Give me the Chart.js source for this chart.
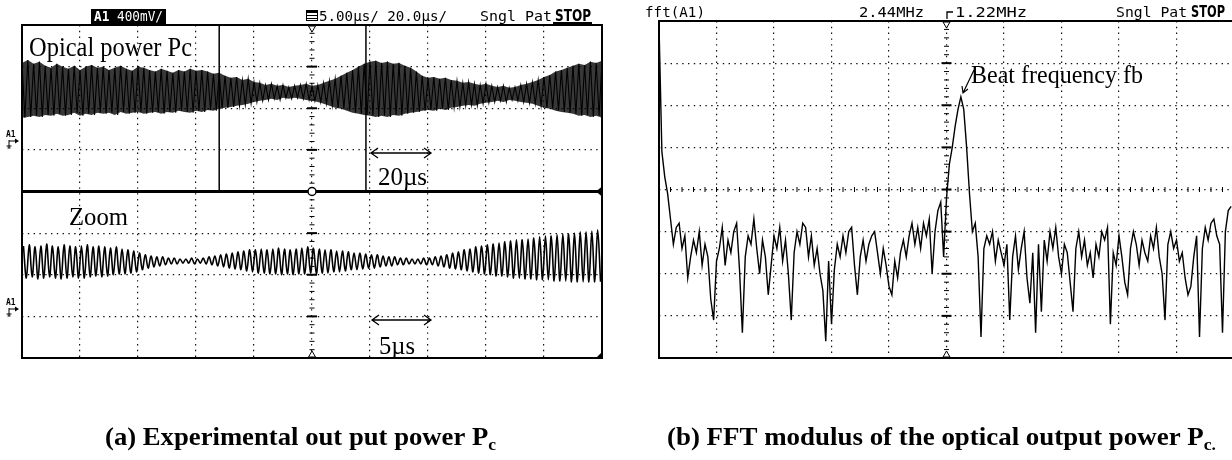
<!DOCTYPE html>
<html>
<head>
<meta charset="utf-8">
<script src="https://cdn.jsdelivr.net/npm/chart.js@4.4.1/dist/chart.umd.min.js"></script>
<style>
html, body { margin: 0; padding: 0; background: #fff; overflow: hidden; width: 1232px; height: 460px; }
canvas { position: absolute; top: 0; }
#left { left: 0; }
#right { left: 616px; }
</style>
</head>
<body>
<canvas id="left" width="616" height="460"></canvas>
<canvas id="right" width="620" height="460"></canvas>
<script>
// All values in screen divisions (x: 0..10, y: 0..8, 0 = bottom of the screen)

// (a) upper window, 20 us/div: upper and lower edge of the trace, every 0.1 div
var mainTop = [
  7.09, 7.16, 7.07, 7.12, 7.02, 6.97, 7.07, 7.00, 6.95, 7.02,
  6.92, 7.00, 7.04, 6.97, 7.00, 6.92, 6.97, 7.02, 6.95, 6.90,
  7.00, 6.97, 6.92, 6.88, 6.95, 6.90, 6.85, 6.92, 6.88, 6.95,
  6.90, 6.92, 6.88, 6.83, 6.85, 6.78, 6.73, 6.75, 6.68, 6.71,
  6.63, 6.61, 6.56, 6.59, 6.54, 6.56, 6.51, 6.54, 6.56, 6.59,
  6.54, 6.56, 6.61, 6.66, 6.71, 6.78, 6.85, 6.92, 7.00, 7.07,
  7.12, 7.14, 7.09, 7.12, 7.07, 7.09, 7.02, 6.97, 6.88, 6.78,
  6.73, 6.75, 6.71, 6.73, 6.68, 6.66, 6.61, 6.63, 6.59, 6.56,
  6.59, 6.54, 6.51, 6.54, 6.49, 6.51, 6.56, 6.59, 6.63, 6.68,
  6.75, 6.80, 6.88, 6.92, 6.97, 7.02, 7.07, 7.04, 7.12, 7.09,
  7.14
];
var mainBottom = [
  5.77, 5.79, 5.82, 5.79, 5.84, 5.82, 5.87, 5.82, 5.84, 5.89,
  5.82, 5.87, 5.84, 5.89, 5.87, 5.89, 5.84, 5.91, 5.87, 5.89,
  5.91, 5.87, 5.89, 5.91, 5.87, 5.91, 5.89, 5.94, 5.91, 5.89,
  5.94, 5.91, 5.96, 5.94, 5.99, 6.01, 6.03, 6.06, 6.08, 6.11,
  6.15, 6.18, 6.20, 6.23, 6.20, 6.25, 6.23, 6.25, 6.23, 6.20,
  6.18, 6.15, 6.11, 6.06, 6.01, 5.99, 5.94, 5.89, 5.87, 5.84,
  5.82, 5.79, 5.82, 5.79, 5.84, 5.82, 5.87, 5.89, 5.91, 5.94,
  5.96, 5.94, 5.99, 5.96, 6.01, 6.03, 6.06, 6.08, 6.06, 6.11,
  6.13, 6.15, 6.18, 6.15, 6.20, 6.18, 6.15, 6.13, 6.11, 6.06,
  6.01, 5.99, 5.94, 5.91, 5.89, 5.87, 5.82, 5.84, 5.79, 5.82,
  5.77
];

// (a) zoom window, 5 us/div: crest and trough of each cycle (one cycle per 0.1 div)
var zoomPeaks = [
  2.69, 2.72, 2.67, 2.69, 2.74, 2.69, 2.67, 2.72, 2.69, 2.67,
  2.69, 2.72, 2.67, 2.69, 2.67, 2.64, 2.67, 2.62, 2.60, 2.57,
  2.52, 2.48, 2.45, 2.43, 2.43, 2.40, 2.40, 2.38, 2.38, 2.40,
  2.38, 2.40, 2.43, 2.45, 2.48, 2.50, 2.52, 2.55, 2.57, 2.60,
  2.60, 2.62, 2.60, 2.62, 2.64, 2.62, 2.60, 2.62, 2.64, 2.67,
  2.64, 2.62, 2.60, 2.60, 2.57, 2.57, 2.55, 2.52, 2.52, 2.50,
  2.48, 2.48, 2.45, 2.43, 2.43, 2.40, 2.40, 2.38, 2.38, 2.40,
  2.40, 2.43, 2.45, 2.48, 2.52, 2.55, 2.60, 2.62, 2.67, 2.69,
  2.72, 2.74, 2.76, 2.79, 2.81, 2.84, 2.84, 2.86, 2.88, 2.91,
  2.93, 2.93, 2.96, 2.98, 2.98, 3.00, 3.03, 3.03, 3.05, 3.08
];
var zoomTroughs = [
  1.92, 1.95, 1.90, 1.92, 1.95, 1.92, 1.90, 1.92, 1.95, 1.92,
  1.92, 1.95, 1.97, 1.95, 1.97, 2.00, 2.02, 2.02, 2.04, 2.07,
  2.12, 2.16, 2.19, 2.21, 2.24, 2.26, 2.26, 2.28, 2.28, 2.26,
  2.28, 2.26, 2.24, 2.21, 2.19, 2.16, 2.14, 2.12, 2.09, 2.07,
  2.04, 2.04, 2.02, 2.02, 2.00, 2.02, 2.00, 2.02, 2.02, 2.04,
  2.02, 2.04, 2.04, 2.07, 2.07, 2.09, 2.12, 2.12, 2.14, 2.16,
  2.16, 2.19, 2.21, 2.21, 2.24, 2.24, 2.26, 2.26, 2.26, 2.24,
  2.24, 2.21, 2.19, 2.16, 2.14, 2.12, 2.09, 2.07, 2.04, 2.02,
  2.00, 1.97, 1.97, 1.95, 1.92, 1.92, 1.90, 1.90, 1.88, 1.88,
  1.88, 1.85, 1.85, 1.85, 1.83, 1.83, 1.83, 1.83, 1.83, 1.83
];

// time cursors of the upper window
var cursorX = [3.40, 5.93];

// (b) FFT modulus, one bin every 0.05 div (span 2.44 MHz, centre 1.22 MHz)
var fftValues = [
  7.9, 4.9, 4.3, 3.9, 3.3, 2.7, 3.1, 3.2, 2.6, 2.9,
  1.9, 2.4, 2.8, 2.5, 3.0, 2.2, 2.7, 2.4, 1.4, 0.9,
  2.3, 2.6, 3.1, 2.2, 2.8, 2.5, 3.0, 3.2, 2.1, 0.6,
  2.4, 2.9, 2.7, 3.3, 2.6, 2.0, 2.8, 2.4, 1.5, 2.2,
  2.9, 2.6, 3.1, 2.3, 2.8, 2.0, 0.9, 2.5, 3.0, 2.7,
  3.2, 3.1, 2.4, 2.9, 2.2, 2.6, 2.0, 1.6, 0.4, 2.3,
  0.8, 2.1, 2.7, 2.4, 2.9, 2.5, 3.0, 3.1, 2.2, 1.5,
  2.4, 2.8, 2.3, 2.7, 2.9, 3.0, 2.5, 2.0, 2.6, 2.2,
  1.7, 1.5, 2.3, 1.9, 2.5, 2.8, 2.4, 2.9, 3.2, 2.7,
  3.1, 2.6, 3.2, 2.9, 3.3, 2.0, 3.0, 3.5, 3.7, 2.4,
  3.8, 4.6, 5.0, 5.5, 5.9, 6.2, 5.9, 5.0, 3.9, 3.0,
  3.2, 2.4, 0.5, 2.6, 2.9, 2.7, 3.0, 2.3, 2.8, 2.5,
  2.2, 2.7, 0.9, 2.4, 2.9, 2.1, 2.6, 3.0, 1.9, 1.3,
  2.5, 0.6, 2.7, 1.1, 2.8, 2.3, 3.0, 2.6, 3.1, 2.4,
  2.0, 2.7, 2.5, 1.8, 1.1, 2.6, 3.0, 2.4, 2.8, 2.2,
  2.5, 1.9, 2.7, 2.4, 3.0, 2.8, 3.1, 0.8, 2.5, 2.2,
  2.9, 2.4, 1.8, 1.5, 2.6, 3.0, 2.7, 2.2, 2.8, 2.5,
  2.3, 2.9, 2.6, 3.1, 2.4, 2.0, 0.9, 2.7, 3.0, 2.6,
  2.8, 2.3, 2.5, 1.9, 1.5, 1.7, 2.4, 2.9, 0.5, 2.6,
  3.1, 2.8, 3.2, 3.3, 2.9, 2.7, 0.6, 3.0, 3.5, 3.6
];

// screen labels
var leftHeader = ['A1', ' 400mV/', '5.00\u00b5s/ 20.0\u00b5s/', 'Sngl Pat', 'STOP'];
var rightHeader = ['fft(A1)', '2.44MHz', '1.22MHz', 'Sngl Pat', 'STOP'];
var notes = ['Opical power Pc', '20\u00b5s', 'Zoom', '5\u00b5s', 'Beat frequency fb'];
var captionA = ['(a) Experimental out put power P', 'c'];
var captionB = ['(b) FFT modulus of the optical output power P', 'c.'];

// build the traces
var mainTrace = [];
for (var i = 0; i < mainTop.length; i++) {
  mainTrace.push({ x: i * 0.1, y: mainTop[i] });
  if (i < mainTop.length - 1) mainTrace.push({ x: i * 0.1 + 0.05, y: mainBottom[i] });
}
var topEdge = mainTop.map(function (v, n) { return { x: n * 0.1, y: v }; });
var bottomEdge = mainBottom.map(function (v, n) { return { x: n * 0.1, y: v }; });
var zoomTrace = [];
for (var k = 0; k < zoomPeaks.length; k++) {
  zoomTrace.push({ x: k * 0.1 + 0.025, y: zoomPeaks[k] });
  zoomTrace.push({ x: k * 0.1 + 0.075, y: zoomTroughs[k] });
}
var fftTrace = fftValues.map(function (v, j) { return { x: j * 0.05, y: v }; });

var MONO = '"DejaVu Sans Mono"';
var SERIF = '"Liberation Serif"';

// draw text squeezed/stretched to a given width
function fitText(ctx, parts, x, baseline, width, color) {
  var total = 0;
  parts.forEach(function (p) { ctx.font = p.font; p.w = ctx.measureText(p.t).width; total += p.w; });
  ctx.save();
  ctx.translate(x, baseline);
  ctx.scale(width / total, 1);
  ctx.fillStyle = color || '#000';
  ctx.textAlign = 'left';
  ctx.textBaseline = 'alphabetic';
  var cx = 0;
  parts.forEach(function (p) { ctx.font = p.font; ctx.fillText(p.t, cx, p.dy || 0); cx += p.w; });
  ctx.restore();
}

function doubleArrow(ctx, x0, x1, y) {
  ctx.beginPath();
  ctx.moveTo(x0, y); ctx.lineTo(x1, y);
  ctx.moveTo(x0 + 7, y - 5); ctx.lineTo(x0, y); ctx.lineTo(x0 + 7, y + 5);
  ctx.moveTo(x1 - 7, y - 5); ctx.lineTo(x1, y); ctx.lineTo(x1 - 7, y + 5);
  ctx.stroke();
}

// small ticks along the centre axes
function vTicks(ctx, xs, ys, skip) {
  var x = xs.getPixelForValue(5);
  for (var n = 0; n <= 40; n++) {
    var v = n * 0.2;
    if (skip && Math.abs(v - skip) < 0.01) continue;
    var y = ys.getPixelForValue(v);
    var half = (n % 5 === 0) ? 5 : 2.5;
    ctx.lineWidth = (n % 5 === 0) ? 2 : 1;
    ctx.beginPath(); ctx.moveTo(x - half, y); ctx.lineTo(x + half, y); ctx.stroke();
  }
}

function markers(ctx, x, top, bottom) {
  ctx.lineWidth = 1;
  ctx.beginPath();
  ctx.moveTo(x - 3.5, top + 1); ctx.lineTo(x + 3.5, top + 1); ctx.lineTo(x, top + 7); ctx.closePath();
  ctx.moveTo(x - 3.5, bottom - 1); ctx.lineTo(x + 3.5, bottom - 1); ctx.lineTo(x, bottom - 7); ctx.closePath();
  ctx.fillStyle = '#fff'; ctx.fill(); ctx.stroke();
}

function channelMark(ctx, y) {
  ctx.fillStyle = '#000';
  ctx.font = 'bold 8px ' + MONO;
  ctx.fillText('A1', 6, y);
  ctx.lineWidth = 1;
  ctx.beginPath();
  ctx.moveTo(9, y + 3); ctx.lineTo(9, y + 11);
  ctx.moveTo(9, y + 4); ctx.lineTo(16, y + 4);
  ctx.moveTo(6.5, y + 9); ctx.lineTo(11.5, y + 9);
  ctx.moveTo(7.5, y + 11); ctx.lineTo(10.5, y + 11);
  ctx.stroke();
  ctx.beginPath(); ctx.moveTo(19, y + 4); ctx.lineTo(15, y + 1.5); ctx.lineTo(15, y + 6.5); ctx.closePath(); ctx.fill();
}

var leftDecor = {
  id: 'leftDecor',
  afterDatasetsDraw: function (chart) {
    var ctx = chart.ctx, a = chart.chartArea, xs = chart.scales.x, ys = chart.scales.y;
    ctx.save();
    ctx.strokeStyle = '#000';
    ctx.fillStyle = '#000';
    // screen frame and window separator
    ctx.lineWidth = 2;
    ctx.strokeRect(a.left, a.top, a.right - a.left, a.bottom - a.top);
    var ySep = ys.getPixelForValue(4);
    ctx.lineWidth = 3;
    ctx.beginPath(); ctx.moveTo(a.left, ySep); ctx.lineTo(a.right, ySep); ctx.stroke();
    vTicks(ctx, xs, ys, 4);
    var xc = xs.getPixelForValue(5);
    ctx.lineWidth = 1.5;
    ctx.beginPath(); ctx.arc(xc, ySep, 4, 0, Math.PI * 2); ctx.fillStyle = '#fff'; ctx.fill(); ctx.stroke();
    ctx.fillStyle = '#000';
    ctx.beginPath(); ctx.moveTo(a.right - 6, ySep); ctx.lineTo(a.right, ySep - 5); ctx.lineTo(a.right, ySep + 5); ctx.closePath(); ctx.fill();
    ctx.beginPath(); ctx.moveTo(a.right - 6, a.bottom); ctx.lineTo(a.right, a.bottom); ctx.lineTo(a.right, a.bottom - 6); ctx.closePath(); ctx.fill();
    markers(ctx, xc, a.top, a.bottom);
    channelMark(ctx, 137);
    channelMark(ctx, 305);

    // header
    ctx.fillStyle = '#000';
    ctx.fillRect(91, 9, 75, 15);
    fitText(ctx, [{ t: leftHeader[0], font: 'bold 14px ' + MONO }, { t: leftHeader[1], font: '14px ' + MONO }], 94, 21, 69, '#fff');
    ctx.lineWidth = 1;
    ctx.strokeRect(306.5, 10.5, 11, 10);
    ctx.fillRect(306, 10, 12, 3);
    ctx.beginPath(); ctx.moveTo(307, 15.5); ctx.lineTo(317, 15.5); ctx.moveTo(307, 18.5); ctx.lineTo(317, 18.5); ctx.stroke();
    fitText(ctx, [{ t: leftHeader[2], font: '14px ' + MONO }], 319, 21, 128);
    fitText(ctx, [{ t: leftHeader[3], font: '14px ' + MONO }], 480, 21, 72);
    fitText(ctx, [{ t: leftHeader[4], font: 'bold 15px "DejaVu Sans"' }], 555, 21, 36);
    ctx.fillRect(553, 22, 39, 2);

    // notes on the screen
    fitText(ctx, [{ t: notes[0], font: '28px ' + SERIF }], 29, 56, 163);
    ctx.lineWidth = 1.3;
    doubleArrow(ctx, xs.getPixelForValue(6) + 1, xs.getPixelForValue(7) + 3, 153);
    fitText(ctx, [{ t: notes[1], font: '26px ' + SERIF }], 378, 185, 49);
    fitText(ctx, [{ t: notes[2], font: '26px ' + SERIF }], 69, 225, 59);
    doubleArrow(ctx, xs.getPixelForValue(6) + 2, xs.getPixelForValue(7) + 3, 320);
    fitText(ctx, [{ t: notes[3], font: '26px ' + SERIF }], 379, 354, 36);

    // caption
    fitText(ctx, [{ t: captionA[0], font: 'bold 26px ' + SERIF }, { t: captionA[1], font: 'bold 17px ' + SERIF, dy: 5 }], 105, 445, 391);
    ctx.restore();
  }
};

var rightDecor = {
  id: 'rightDecor',
  afterDatasetsDraw: function (chart) {
    var ctx = chart.ctx, a = chart.chartArea, xs = chart.scales.x, ys = chart.scales.y;
    ctx.save();
    ctx.strokeStyle = '#000';
    ctx.fillStyle = '#000';
    ctx.lineWidth = 2;
    ctx.strokeRect(a.left, a.top, a.right - a.left, a.bottom - a.top);
    vTicks(ctx, xs, ys, null);
    // ticks along the horizontal centre line
    var yMid = ys.getPixelForValue(4);
    ctx.lineWidth = 1;
    for (var n = 0; n <= 50; n++) {
      var x = xs.getPixelForValue(n * 0.2);
      ctx.beginPath(); ctx.moveTo(x, yMid - 2.5); ctx.lineTo(x, yMid + 2.5); ctx.stroke();
    }
    markers(ctx, xs.getPixelForValue(5), a.top, a.bottom);

    // header
    fitText(ctx, [{ t: rightHeader[0], font: '14px ' + MONO }], 29, 17, 60);
    fitText(ctx, [{ t: rightHeader[1], font: '14px ' + MONO }], 243, 17, 65);
    ctx.lineWidth = 1.3;
    ctx.beginPath(); ctx.moveTo(331, 19); ctx.lineTo(331, 12); ctx.lineTo(337, 12); ctx.stroke();
    fitText(ctx, [{ t: rightHeader[2], font: '14px ' + MONO }], 339, 17, 72);
    fitText(ctx, [{ t: rightHeader[3], font: '14px ' + MONO }], 500, 17, 71);
    fitText(ctx, [{ t: rightHeader[4], font: 'bold 15px "DejaVu Sans"' }], 575, 17, 34);
    ctx.fillRect(573, 18, 38, 2);

    // annotation of the peak
    fitText(ctx, [{ t: notes[4], font: '26px ' + SERIF }], 355, 83, 172);
    ctx.lineWidth = 1.2;
    ctx.beginPath();
    ctx.moveTo(358, 70); ctx.lineTo(347, 93);
    ctx.moveTo(346, 86); ctx.lineTo(347, 93); ctx.lineTo(352, 89);
    ctx.stroke();

    fitText(ctx, [{ t: captionB[0], font: 'bold 26px ' + SERIF }, { t: captionB[1], font: 'bold 17px ' + SERIF, dy: 5 }], 51, 445, 549);
    ctx.restore();
  }
};

function screenScales(ymax) {
  var dots = { color: '#111', lineWidth: 1.2, drawTicks: false };
  return {
    x: { type: 'linear', min: 0, max: 10, ticks: { display: false, stepSize: 1 }, grid: dots, border: { display: false, dash: [1.4, 4.4] } },
    y: { type: 'linear', min: 0, max: ymax, ticks: { display: false, stepSize: 1 }, grid: dots, border: { display: false, dash: [1.4, 4.4] } }
  };
}

var lineStyle = { borderColor: '#000', pointRadius: 0 };

new Chart(document.getElementById('left'), {
  type: 'line',
  data: {
    datasets: [
      Object.assign({ label: 'Pc upper edge', data: topEdge, borderWidth: 0, tension: 0, fill: '+1', backgroundColor: 'rgba(0,0,0,0.78)' }, lineStyle),
      Object.assign({ label: 'Pc lower edge', data: bottomEdge, borderWidth: 0, tension: 0, fill: false }, lineStyle),
      Object.assign({ label: 'Pc 20us/div', data: mainTrace, borderWidth: 1.1, tension: 0, fill: false }, lineStyle),
      Object.assign({ label: 'Zoom 5us/div', data: zoomTrace, borderWidth: 1.6, tension: 0.35, fill: false }, lineStyle),
      Object.assign({ label: 'cursor 1', data: [{ x: cursorX[0], y: 4 }, { x: cursorX[0], y: 8 }], borderWidth: 1.5, fill: false }, lineStyle),
      Object.assign({ label: 'cursor 2', data: [{ x: cursorX[1], y: 4 }, { x: cursorX[1], y: 8 }], borderWidth: 1.5, fill: false }, lineStyle)
    ]
  },
  options: {
    responsive: false,
    animation: false,
    events: [],
    layout: { padding: { left: 22, top: 25, right: 14, bottom: 102 } },
    plugins: { legend: { display: false }, tooltip: { enabled: false }, filler: { propagate: false } },
    scales: screenScales(8)
  },
  plugins: [leftDecor]
});

new Chart(document.getElementById('right'), {
  type: 'line',
  data: {
    datasets: [
      Object.assign({ label: 'fft(A1)', data: fftTrace, borderWidth: 1.4, tension: 0, fill: false }, lineStyle)
    ]
  },
  options: {
    responsive: false,
    animation: false,
    events: [],
    layout: { padding: { left: 43, top: 21, right: 2, bottom: 102 } },
    plugins: { legend: { display: false }, tooltip: { enabled: false } },
    scales: screenScales(8)
  },
  plugins: [rightDecor]
});
</script>
</body>
</html>
